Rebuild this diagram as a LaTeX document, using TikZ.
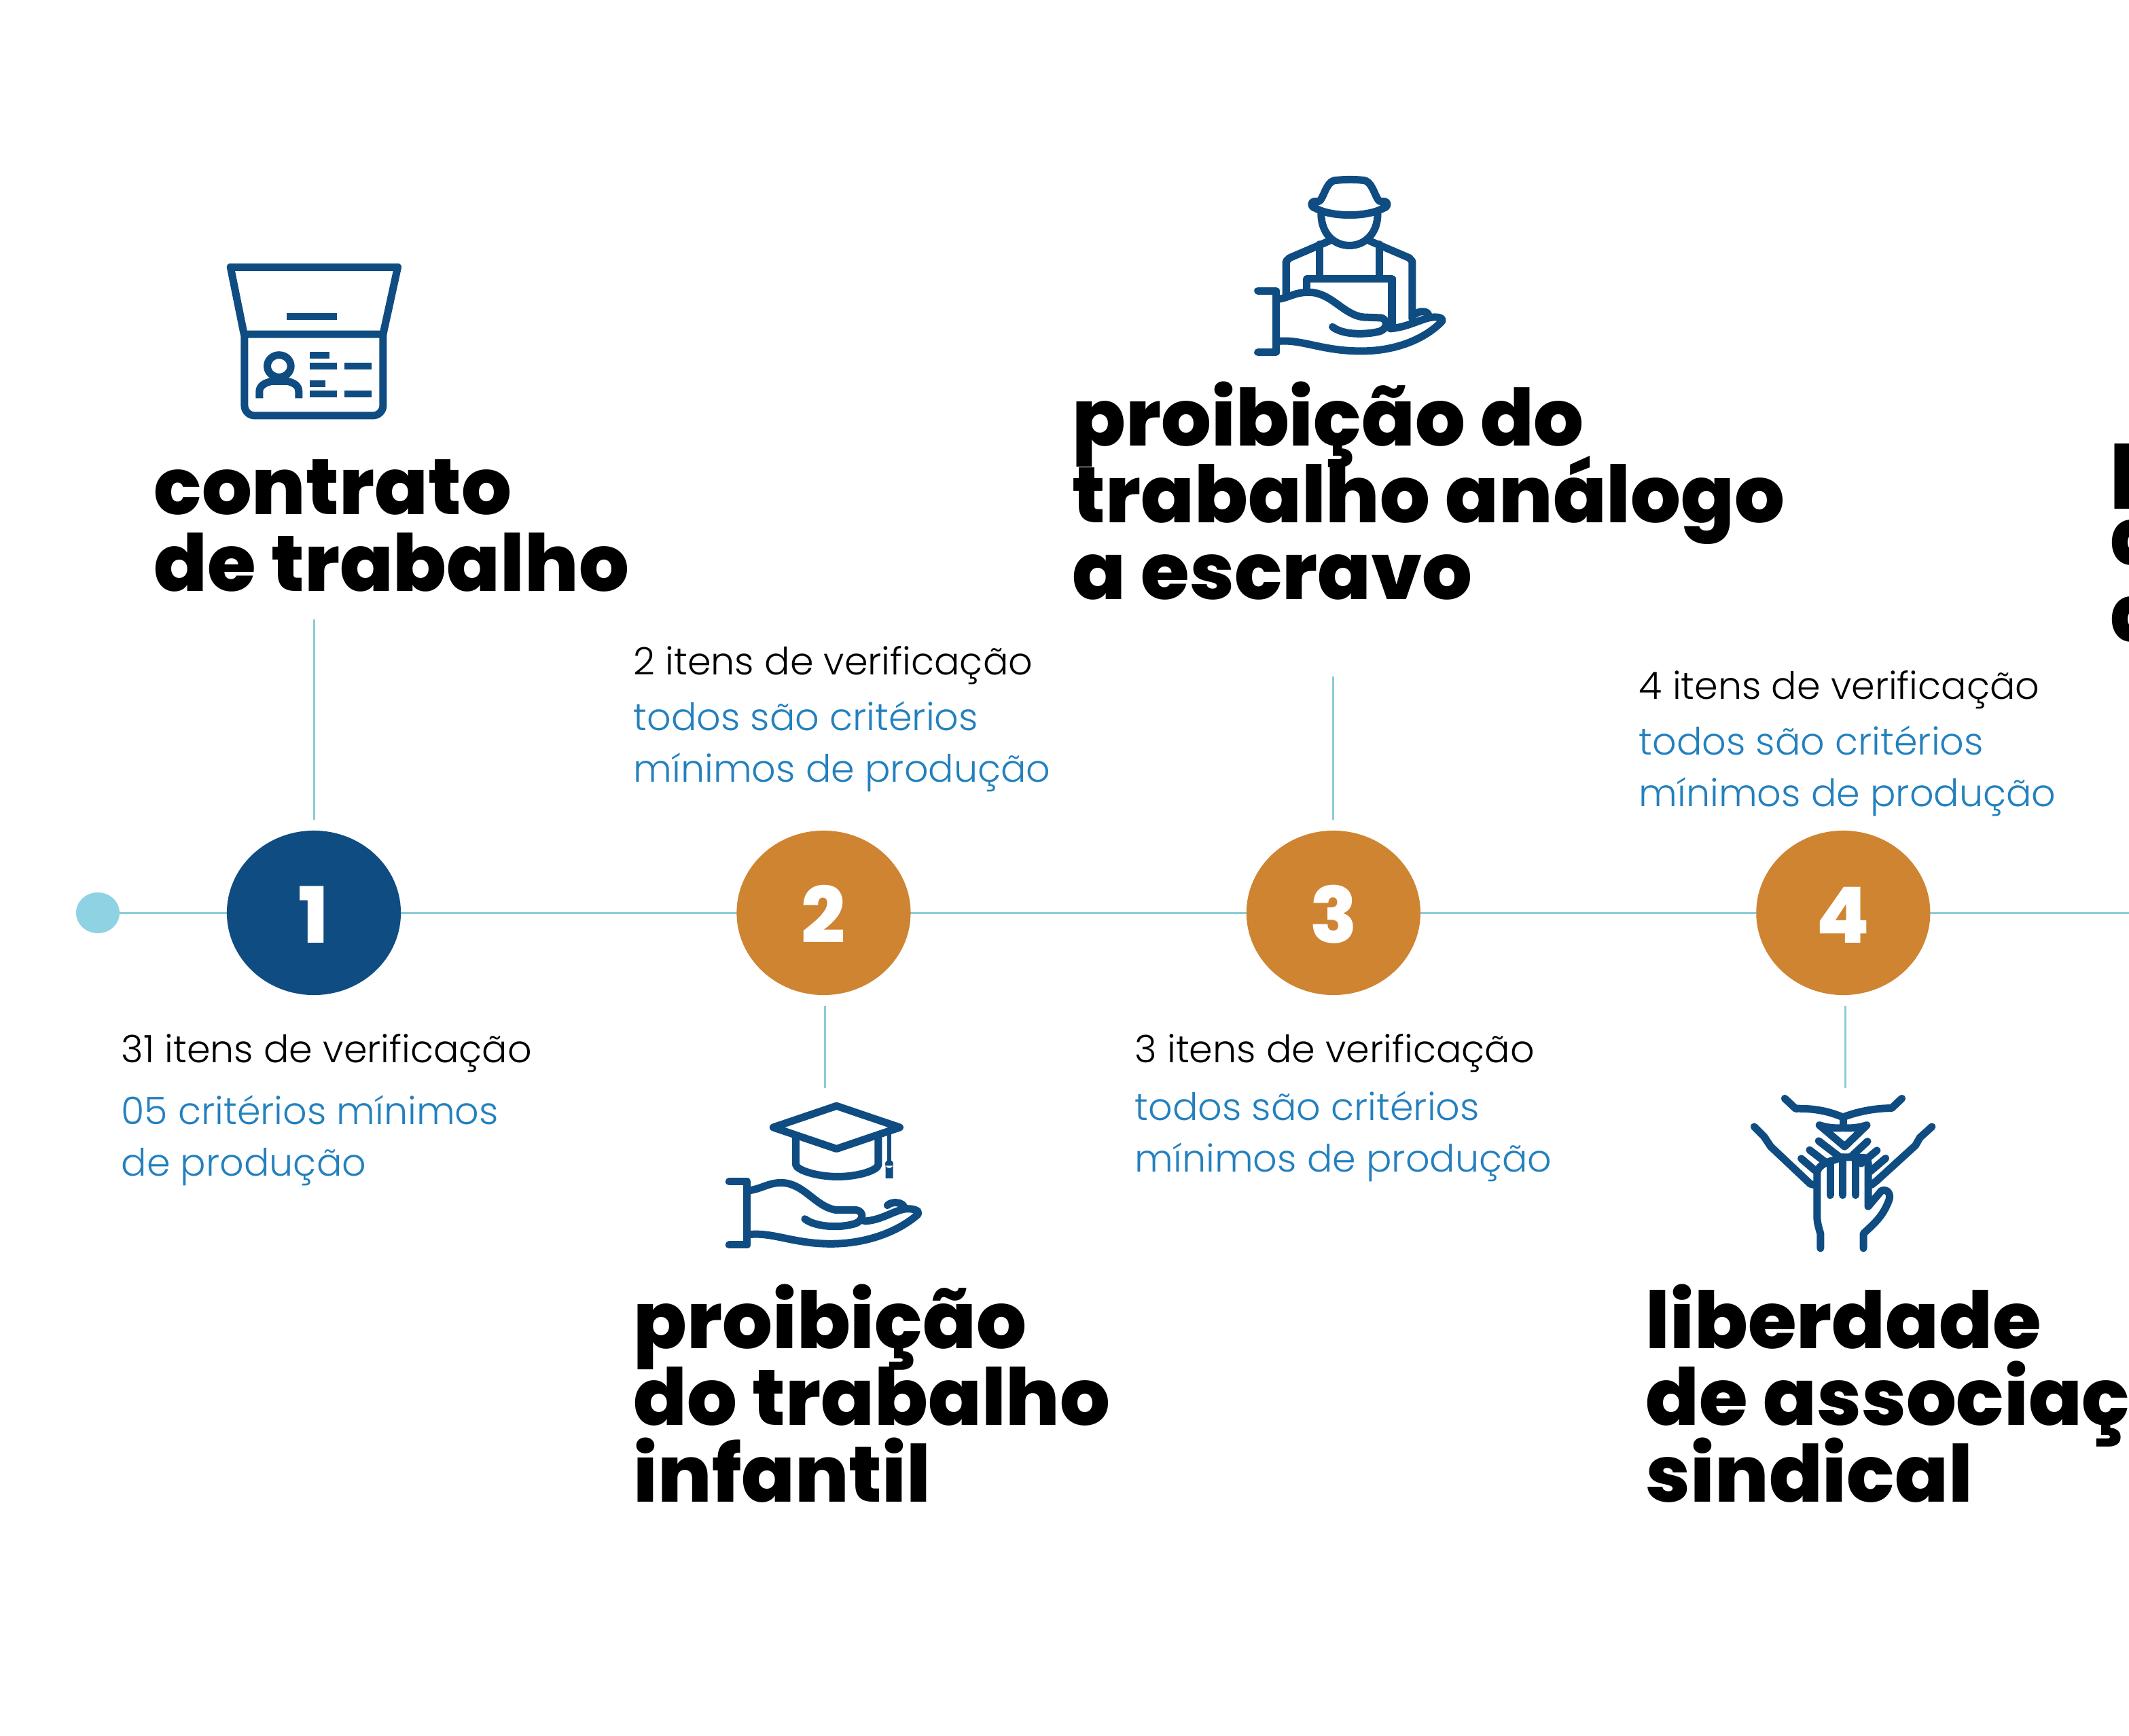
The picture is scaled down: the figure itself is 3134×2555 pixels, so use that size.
\documentclass[tikz,border=0pt]{standalone}
\usepackage{fontspec}
\setmainfont{Poppins}[UprightFont=* Light,BoldFont=* ExtraBold]
\usetikzlibrary{arrows.meta,positioning,shapes.geometric,backgrounds}
\definecolor{navyblue}{HTML}{0F4C81}
\definecolor{ochre}{HTML}{CE8431}
\definecolor{paleteal}{HTML}{8CCBD5}
\definecolor{skyblue}{HTML}{8FD2E3}
\definecolor{critblue}{HTML}{2380BE}
\begin{document}
\begin{tikzpicture}[x=0.01cm,y=-0.01cm,
 ball/.style={ellipse,minimum width=2.56cm,minimum height=2.42cm,inner sep=0pt,outer sep=.16cm,text=white,text height=.88cm,text depth=0pt,font=\fontsize{32.5}{32.5}\selectfont\bfseries},
 title/.style={anchor=north west,inner sep=0pt,align=left,font={\fontsize{33}{32.1}\selectfont\bfseries\lineskiplimit -50pt }},
 info/.style={anchor=base west,inner sep=0pt,font=\fontsize{15.8}{15.8}\selectfont},
 crit/.style={anchor=north west,inner sep=0pt,align=left,text=critblue,font=\fontsize{15.8}{21.6}\selectfont},
 link/.style={draw=paleteal,line width=.85pt},
 icon/.style={draw=navyblue,line width=.11cm,line cap=round,line join=round},
 bar/.style={draw=navyblue,line width=.1cm}]
\useasboundingbox (0,0) rectangle (3134,2555);
\node[ellipse,fill=skyblue,minimum width=.64cm,minimum height=.6cm,inner sep=0pt] (start) at (144,1344) {};
\node[ball,fill=navyblue] (n1) at (462,1344) {1};
\node[ball,fill=ochre,right=4.62cm of n1] (n2) {2};
\node[ball,fill=ochre,right=4.62cm of n2] (n3) {3};
\node[ball,fill=ochre,right=4.62cm of n3] (n4) {4};
\coordinate (edge) at (3134,1344);
\begin{scope}[on background layer]
\draw[link] (start.center)--(n1.center);
\draw[link] (n1.center)--(n2.center);
\draw[link] (n2.center)--(n3.center);
\draw[link] (n3.center)--(n4.center);
\draw[link] (n4.center)--(edge);
\end{scope}
% titles
\node[title] (t1) at (226,676) {contrato\\de trabalho};
\node[title] (t2) at (932,1890) {proibição\\do trabalho\\infantil};
\node[title] (t3) at (1578,561) {proibição do\\trabalho análogo\\a escravo};
\node[title] (t4) at (2422,1890) {liberdade\\de associação\\sindical};
\node[title] (t5) at (3106,652) {p\\d\\d};
% counts
\node[info] (i1) at (178,1564) {31 itens de verificação};
\node[crit] (c1) at (178,1612) {05 critérios mínimos\\de produção};
\node[info] (i2) at (932,993) {2 itens de verificação};
\node[crit] (c2) at (932,1032) {todos são critérios\\mínimos de produção};
\node[info] (i3) at (1670,1564) {3 itens de verificação};
\node[crit] (c3) at (1670,1606) {todos são critérios\\mínimos de produção};
\node[info] (i4) at (2412,1029) {4 itens de verificação};
\node[crit] (c4) at (2412,1068) {todos são critérios\\mínimos de produção};
% stems
\coordinate (s1) at (462,912);
\coordinate (s2) at (1214,1602);
\coordinate (s3) at (1962,996);
\coordinate (s4) at (2716,1602);
\draw[link] (s1)--(s1|-n1.north);
\draw[link] (s2|-n2.south)--(s2);
\draw[link] (s3)--(s3|-n3.north);
\draw[link] (s4|-n4.south)--(s4);
% contract icon
\begin{scope}[shift={(300,360)},x=0.00333cm,y=-0.00333cm]
\draw[icon] (178,397)--(118,100)--(858,100)--(793,397)--cycle;
\draw[icon,rounded corners=.15cm] (180,397)--(180,757)--(793,757)--(793,397);
\draw[bar] (366,320)--(588,320) (470,490)--(555,490) (470,537)--(588,537) (622,537)--(742,537)
 (470,615)--(538,615) (470,662)--(588,662) (622,662)--(742,662);
\draw[navyblue,line width=.11cm] (333,538) ellipse (52 and 49);
\draw[navyblue,line width=.11cm] (246,680)--(246,650) .. controls (246,625) and (270,612) .. (300,605)
 -- (370,605) .. controls (400,612) and (420,625) .. (420,650) -- (420,680);
\end{scope}
% worker icon
\begin{scope}[shift={(1820,240)},x=0.00333cm,y=-0.00333cm]
\draw[icon] (345,170)--(365,170) .. controls (385,160) and (395,90) .. (430,78)
 .. controls (470,72) and (540,72) .. (570,78) .. controls (605,90) and (615,160) .. (635,170)
 --(655,170) .. controls (675,175) and (670,195) .. (650,200) .. controls (580,240) and (420,240) .. (350,200)
 .. controls (330,195) and (325,175) .. (345,170)--cycle;
\draw[icon] (375,225) .. controls (375,310) and (430,365) .. (500,365) .. controls (570,365) and (625,310) .. (625,225);
\draw[icon] (410,345)--(235,420)--(220,435)--(220,590);
\draw[icon] (590,345)--(765,420)--(778,435)--(778,690);
\draw[icon] (367,360)--(367,510) (633,360)--(633,510);
\draw[icon,line cap=butt] (312,570)--(312,512)--(688,512)--(688,730);
\draw[icon] (95,565)--(175,565)--(175,838)--(95,838);
\draw[icon] (175,603) .. controls (230,600) and (250,572) .. (320,572) .. controls (420,572) and (470,670) .. (560,682)
 --(640,685) .. controls (670,690) and (675,740) .. (620,748) .. controls (560,760) and (470,760) .. (425,725);
\draw[icon] (175,790) .. controls (280,775) and (370,830) .. (540,832) .. controls (700,835) and (830,780) .. (905,705)
 .. controls (920,690) and (905,682) .. (880,682) .. controls (830,680) and (770,725) .. (680,733);
\draw[icon] (790,670) .. controls (810,650) and (850,655) .. (850,675);
\end{scope}
% graduation icon
\begin{scope}[shift={(1050,1600)},x=0.00333cm,y=-0.00333cm]
\draw[icon] (545,85)--(825,180)--(545,275)--(265,180)--cycle;
\draw[icon] (365,225)--(365,345) .. controls (370,370) and (460,398) .. (550,398) .. controls (640,398) and (728,370) .. (730,345)--(730,225);
\draw[navyblue,line width=.06cm] (778,195)--(778,340);
\fill[navyblue] (778,342) circle (18) (762,350) rectangle (795,405);
\draw[icon] (70,420)--(150,420)--(150,700)--(70,700);
\draw[icon] (150,460) .. controls (210,455) and (240,425) .. (300,425) .. controls (400,425) and (450,530) .. (540,545)
 --(630,545) .. controls (670,550) and (670,600) .. (610,610) .. controls (550,625) and (450,620) .. (405,585);
\draw[icon] (150,655) .. controls (260,640) and (350,695) .. (520,695) .. controls (680,695) and (820,640) .. (905,565)
 .. controls (915,550) and (890,540) .. (860,540) .. controls (810,540) and (750,590) .. (670,595);
\draw[icon] (770,525) .. controls (790,505) and (840,510) .. (845,535);
\end{scope}
% hands icon
\begin{scope}[shift={(2550,1590)},x=0.00333cm,y=-0.00333cm]
\draw[icon] (232,82)--(280,127) .. controls (380,125) and (440,145) .. (490,165) .. controls (540,145) and (620,125) .. (705,125)--(750,82);
\draw[icon] (490,165)--(490,212);
\draw[icon] (385,200) .. controls (420,212) and (460,215) .. (490,212) .. controls (520,215) and (560,212) .. (595,200)--(497,295)--(385,200);
\draw[icon] (382,270)--(480,345) (342,310)--(420,370) (305,348)--(365,400);
\draw[icon] (598,272)--(525,340) (640,312)--(570,370) (678,347)--(610,405);
\draw[icon] (97,207)--(140,250)--(170,295)--(345,460)--(365,465);
\draw[icon] (883,207)--(830,255)--(810,290)--(640,445)--(615,465);
\draw[icon] (390,745)--(390,680) .. controls (375,630) and (375,620) .. (375,600)--(375,410)
 .. controls (380,385) and (400,370) .. (433,360)--(488,342)--(545,342)--(590,345)--(601,365)--(601,560)
 --(660,490) .. controls (690,480) and (705,510) .. (690,540) .. controls (665,600) and (640,625) .. (580,680)--(580,745);
\draw[icon] (433,360)--(433,510) (488,342)--(488,510) (545,342)--(545,510);
\end{scope}
\end{tikzpicture}
\end{document}
